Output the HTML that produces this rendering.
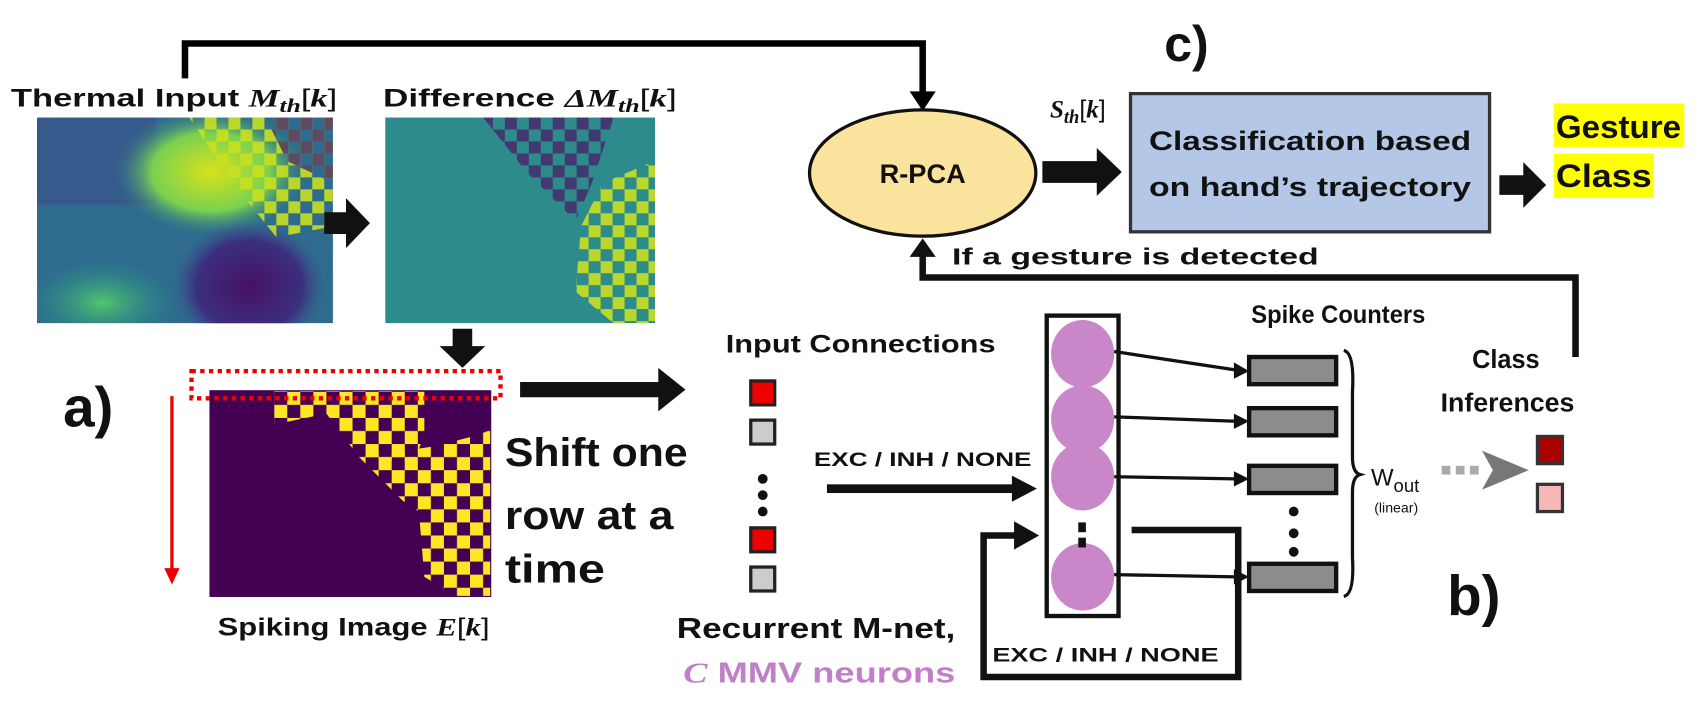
<!DOCTYPE html>
<html><head><meta charset="utf-8"><style>
html,body{margin:0;padding:0;background:#fff;}
svg{display:block;}
text{font-family:"Liberation Sans",sans-serif;font-weight:bold;fill:#111;}
.m{font-family:"Liberation Serif",serif;font-style:italic;font-weight:bold;}
</style></head><body>
<svg width="1705" height="702" viewBox="0 0 1567 645" preserveAspectRatio="none" xmlns="http://www.w3.org/2000/svg">
<defs>
<pattern id="chk" width="24" height="24" patternUnits="userSpaceOnUse">
<rect x="0" y="0" width="12" height="12" fill="#fde725"/><rect x="12" y="12" width="12" height="12" fill="#fde725"/>
</pattern>
<pattern id="chk2" width="22" height="22" patternUnits="userSpaceOnUse">
<rect x="0" y="0" width="11" height="11" fill="#c8e020"/><rect x="11" y="11" width="11" height="11" fill="#c8e020"/>
</pattern>
<pattern id="chk3" width="22" height="22" patternUnits="userSpaceOnUse">
<rect x="0" y="0" width="11" height="11" fill="#46296e"/><rect x="11" y="11" width="11" height="11" fill="#46296e"/>
</pattern>
<radialGradient id="yg" cx="0.5" cy="0.5" r="0.5"><stop offset="0" stop-color="#d8e219"/><stop offset="0.6" stop-color="#7ad151"/><stop offset="1" stop-color="#2a788e" stop-opacity="0"/></radialGradient>
<radialGradient id="pg" cx="0.5" cy="0.5" r="0.5"><stop offset="0" stop-color="#471164"/><stop offset="0.7" stop-color="#3b2f7f"/><stop offset="1" stop-color="#3b528b" stop-opacity="0"/></radialGradient>
<radialGradient id="gg" cx="0.5" cy="0.5" r="0.5"><stop offset="0" stop-color="#52c569"/><stop offset="1" stop-color="#21918c" stop-opacity="0"/></radialGradient>
</defs>

<!-- top feedback line -->
<polyline points="170,72 170,40 848,40 848,88" fill="none" stroke="#000" stroke-width="6"/>
<polygon points="836,84 860,84 848,102" fill="#000"/>

<text x="10" y="98" font-size="23" textLength="300" lengthAdjust="spacingAndGlyphs">Thermal Input <tspan class="m">M</tspan><tspan class="m" font-size="17" dy="5">th</tspan><tspan dy="-5" font-weight="normal">[</tspan><tspan class="m">k</tspan><tspan font-weight="normal">]</tspan></text>
<text x="352" y="98" font-size="23" textLength="270" lengthAdjust="spacingAndGlyphs">Difference <tspan class="m">ΔM</tspan><tspan class="m" font-size="17" dy="5">th</tspan><tspan dy="-5" font-weight="normal">[</tspan><tspan class="m">k</tspan><tspan font-weight="normal">]</tspan></text>

<!-- thermal image -->
<svg x="34" y="108" width="272" height="189" overflow="hidden">
<rect width="272" height="189" fill="#2f6b8e"/>
<rect x="0" y="0" width="110" height="80" fill="#3b528b" opacity="0.7"/>
<ellipse cx="60" cy="170" rx="70" ry="40" fill="url(#gg)"/>
<ellipse cx="160" cy="50" rx="90" ry="60" fill="url(#yg)"/>
<ellipse cx="195" cy="155" rx="70" ry="60" fill="url(#pg)"/>
<polygon points="140,0 272,0 272,100 220,110 180,60" fill="url(#chk2)" opacity="0.9"/>
<polygon points="210,0 272,0 272,60 230,40" fill="url(#chk3)" opacity="0.8"/>
</svg>

<polygon points="298,195 318,195 318,182 340,205 318,228 318,215 298,215" fill="#111"/>

<!-- difference image -->
<svg x="354" y="108" width="248" height="189" overflow="hidden">
<rect width="248" height="189" fill="#2e8b8b"/>
<polygon points="90,0 210,0 190,60 175,95 130,50" fill="url(#chk3)" opacity="0.85"/>
<polygon points="200,60 248,40 248,189 210,189 175,160 180,100" fill="url(#chk2)" opacity="0.9"/>
</svg>

<polygon points="416,302 434,302 434,318 446,318 425,338 404,318 416,318" fill="#111"/>

<!-- spiking image -->
<rect x="193" y="359" width="258" height="189" fill="#440154"/>
<polygon points="252,359 390,359 390,400 380,425 330,420 300,380 252,390" fill="url(#chk)"/>
<polygon points="330,420 400,410 438,400 451,395 451,548 420,548 390,530 385,470 370,460" fill="url(#chk)"/>
<rect x="193" y="359" width="258" height="189" fill="none" stroke="#440154" stroke-width="1"/>
<rect x="176" y="341" width="284" height="25" fill="none" stroke="#e00" stroke-width="4" stroke-dasharray="4,4"/>
<line x1="158" y1="364" x2="158" y2="525" stroke="#e00" stroke-width="3"/>
<polygon points="151,522 165,522 158,537" fill="#e00"/>
<text x="58" y="392" font-size="52">a)</text>
<text x="200" y="584" font-size="23" textLength="250" lengthAdjust="spacingAndGlyphs">Spiking Image <tspan class="m">E</tspan><tspan font-weight="normal">[</tspan><tspan class="m">k</tspan><tspan font-weight="normal">]</tspan></text>

<!-- shift arrow -->
<rect x="478" y="351" width="130" height="14" fill="#111"/>
<polygon points="605,338 630,358 605,378" fill="#111"/>
<text x="464" y="428" font-size="37" textLength="168" lengthAdjust="spacingAndGlyphs">Shift one</text>
<text x="464" y="486" font-size="37" textLength="155" lengthAdjust="spacingAndGlyphs">row at a</text>
<text x="464" y="535" font-size="37" textLength="92" lengthAdjust="spacingAndGlyphs">time</text>

<!-- input connections -->
<text x="667" y="324" font-size="23" textLength="248" lengthAdjust="spacingAndGlyphs">Input Connections</text>
<rect x="690" y="350" width="22" height="22" fill="#e00" stroke="#222" stroke-width="3"/>
<rect x="690" y="386" width="22" height="22" fill="#ccc" stroke="#222" stroke-width="3"/>
<circle cx="701" cy="440" r="4.5" fill="#111"/><circle cx="701" cy="455" r="4.5" fill="#111"/><circle cx="701" cy="470" r="4.5" fill="#111"/>
<rect x="690" y="485" width="22" height="22" fill="#e00" stroke="#222" stroke-width="3"/>
<rect x="690" y="521" width="22" height="22" fill="#ccc" stroke="#222" stroke-width="3"/>
<text x="748" y="428" font-size="18" textLength="200" lengthAdjust="spacingAndGlyphs">EXC / INH / NONE</text>
<rect x="760" y="445" width="175" height="8" fill="#111"/>
<polygon points="930,437 953,449 930,461" fill="#111"/>
<text x="622" y="586" font-size="26" textLength="256" lengthAdjust="spacingAndGlyphs">Recurrent M-net,</text>
<text x="628" y="627" font-size="26" textLength="250" lengthAdjust="spacingAndGlyphs" style="fill:#c080c8"><tspan class="m" style="fill:#c080c8">C</tspan> MMV neurons</text>

<!-- neurons -->
<rect x="962" y="290" width="66" height="276" fill="#fff" stroke="#111" stroke-width="4"/>
<ellipse cx="995" cy="325" rx="29" ry="31" fill="#c987c9"/>
<ellipse cx="995" cy="385" rx="29" ry="31" fill="#c987c9"/>
<ellipse cx="995" cy="438" rx="29" ry="31" fill="#c987c9"/>
<ellipse cx="995" cy="530" rx="29" ry="31" fill="#c987c9"/>
<rect x="991" y="480" width="7" height="9" fill="#111"/><rect x="991" y="494" width="7" height="9" fill="#111"/>

<!-- recurrence -->
<polyline points="1040,487 1138,487 1138,622 904,622 904,492 940,492" fill="none" stroke="#111" stroke-width="6"/>
<polygon points="932,479 955,492 932,505" fill="#111"/>
<text x="912" y="608" font-size="18" textLength="208" lengthAdjust="spacingAndGlyphs">EXC / INH / NONE</text>

<!-- spike counters -->
<text x="1150" y="297" font-size="23" textLength="160" lengthAdjust="spacingAndGlyphs">Spike Counters</text>
<g fill="#8c8c8c" stroke="#111" stroke-width="4">
<rect x="1148" y="328" width="80" height="25"/>
<rect x="1148" y="375" width="80" height="25"/>
<rect x="1148" y="428" width="80" height="25"/>
<rect x="1148" y="518" width="80" height="25"/>
</g>
<g stroke="#111" stroke-width="3">
<line x1="1024" y1="323" x2="1136" y2="340"/>
<line x1="1024" y1="383" x2="1136" y2="387"/>
<line x1="1024" y1="438" x2="1136" y2="440"/>
<line x1="1024" y1="528" x2="1136" y2="530"/>
</g>
<g fill="#111">
<polygon points="1134,333 1148,341 1134,348"/>
<polygon points="1134,380 1148,387 1134,394"/>
<polygon points="1134,433 1148,440 1134,447"/>
<polygon points="1134,523 1148,530 1134,537"/>
</g>
<circle cx="1189" cy="470" r="4.5" fill="#111"/><circle cx="1189" cy="490" r="4.5" fill="#111"/><circle cx="1189" cy="507" r="4.5" fill="#111"/>
<path d="M1235,322 Q1245,324 1243,360 L1243,420 Q1243,434 1250,436 Q1243,438 1243,452 L1243,512 Q1245,546 1235,548" fill="none" stroke="#111" stroke-width="3"/>

<text x="1260" y="446" font-size="22" font-weight="normal" style="font-weight:normal">W<tspan font-size="17" dy="6">out</tspan></text>
<text x="1263" y="471" font-size="13" style="font-weight:normal">(linear)</text>
<rect x="1325" y="428" width="8" height="8" fill="#aaa"/><rect x="1338" y="428" width="8" height="8" fill="#aaa"/><rect x="1351" y="428" width="8" height="8" fill="#aaa"/>
<polygon points="1362,414 1405,432 1362,450 1372,432" fill="#777"/>
<rect x="1413" y="401" width="23" height="25" fill="#a00" stroke="#333" stroke-width="3"/>
<rect x="1413" y="445" width="23" height="25" fill="#f8b8b8" stroke="#333" stroke-width="3"/>
<text x="1353" y="338" font-size="24" textLength="62" lengthAdjust="spacingAndGlyphs">Class</text>
<text x="1324" y="378" font-size="24" textLength="123" lengthAdjust="spacingAndGlyphs">Inferences</text>
<text x="1330" y="565" font-size="52">b)</text>

<!-- feedback from class inferences -->
<polyline points="1448,328 1448,255 848,255 848,232" fill="none" stroke="#111" stroke-width="6"/>
<polygon points="836,236 860,236 848,219" fill="#111"/>
<text x="875" y="243" font-size="21" textLength="337" lengthAdjust="spacingAndGlyphs">If a gesture is detected</text>

<!-- R-PCA -->
<ellipse cx="848" cy="159" rx="104" ry="58" fill="#fae39c" stroke="#111" stroke-width="3"/>
<text x="848" y="168" font-size="25" text-anchor="middle">R-PCA</text>
<text x="965" y="108" font-size="23"><tspan class="m">S</tspan><tspan class="m" font-size="17" dy="5">th</tspan><tspan dy="-5" font-weight="normal">[</tspan><tspan class="m">k</tspan><tspan font-weight="normal">]</tspan></text>
<polygon points="958,148 1008,148 1008,136 1031,158 1008,180 1008,168 958,168" fill="#111"/>

<rect x="1039" y="86" width="330" height="127" fill="#b4c7e7" stroke="#333" stroke-width="3"/>
<text x="1204" y="138" font-size="25" text-anchor="middle" textLength="296" lengthAdjust="spacingAndGlyphs">Classification based</text>
<text x="1204" y="180" font-size="25" text-anchor="middle" textLength="296" lengthAdjust="spacingAndGlyphs">on hand’s trajectory</text>
<text x="1070" y="56" font-size="46">c)</text>

<polygon points="1378,161 1400,161 1400,149 1421,170 1400,191 1400,179 1378,179" fill="#111"/>
<rect x="1428" y="95" width="120" height="40" fill="#ffff00"/>
<rect x="1428" y="141" width="92" height="41" fill="#ffff00"/>
<text x="1430" y="127" font-size="30" textLength="115" lengthAdjust="spacingAndGlyphs">Gesture</text>
<text x="1430" y="172" font-size="30" textLength="88" lengthAdjust="spacingAndGlyphs">Class</text>
</svg>
</body></html>
